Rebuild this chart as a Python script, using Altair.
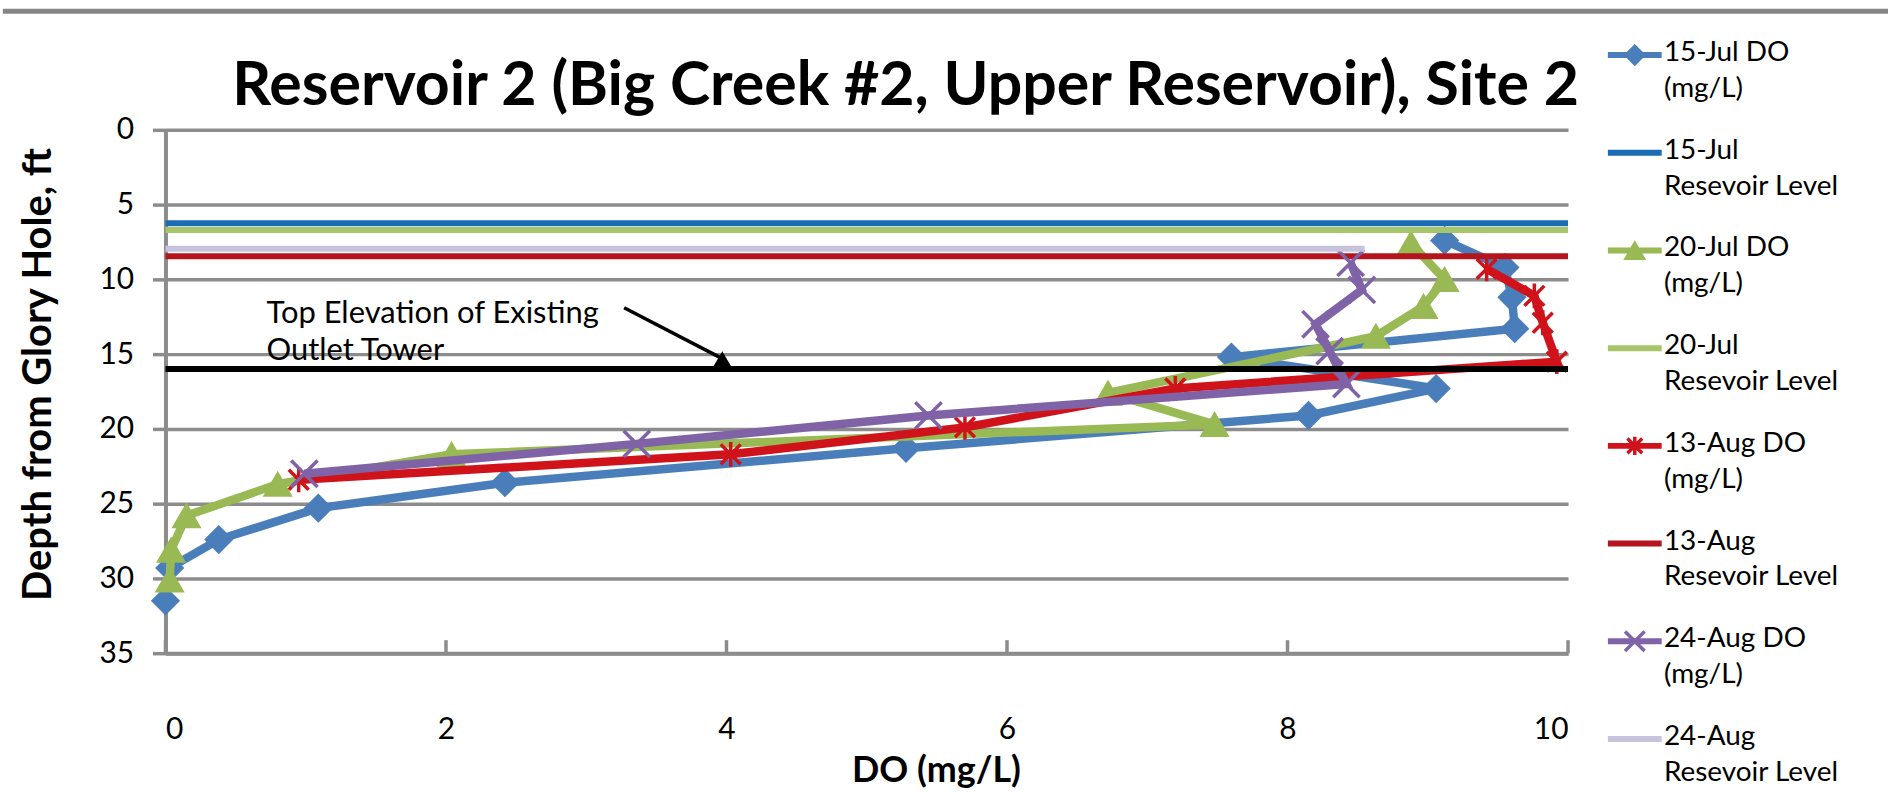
import altair as alt
import pandas as pd

# ---------------- data ----------------
do_names = ["15-Jul DO (mg/L)", "20-Jul DO (mg/L)", "13-Aug DO (mg/L)", "24-Aug DO (mg/L)"]

jul15_do    = [9.12, 9.55, 9.60, 9.62, 7.60, 9.06, 8.15, 5.28, 2.42, 1.09, 0.38, 0.03, 0.00]
jul15_depth = [7.4, 9.2, 11.2, 13.3, 15.2, 17.3, 19.1, 21.3, 23.6, 25.3, 27.4, 29.3, 31.5]

jul20_do    = [8.88, 9.12, 8.97, 8.63, 6.72, 7.48, 2.04, 0.80, 0.15, 0.04, 0.03]
jul20_depth = [7.6, 10.0, 11.8, 13.8, 17.6, 19.7, 21.7, 23.7, 25.8, 28.1, 30.1]

aug13_do    = [9.42, 9.76, 9.82, 9.92, 7.20, 5.70, 4.03, 0.95]
aug13_depth = [9.3, 11.1, 12.9, 15.5, 17.3, 19.9, 21.7, 23.4]

aug24_do    = [8.45, 8.53, 8.20, 8.30, 8.42, 5.44, 3.36, 0.99]
aug24_depth = [8.9, 10.7, 13.0, 14.8, 17.0, 19.1, 21.0, 23.0]

level_names    = ["15-Jul Resevoir Level", "20-Jul Resevoir Level",
                  "13-Aug Resevoir Level", "24-Aug Resevoir Level"]
level_depth    = [6.25, 6.70, 8.45, 7.95]
level_do_start = [0, 0, 0, 0]
level_do_end   = [10, 10, 10, 8.55]

tower_depth = 16.0
tower_do = [0, 10]

annot_lines = ["Top Elevation of Existing", "Outlet Tower"]
annot_do = [0.72, 0.72]
annot_depth = [12.3, 14.8]
arrow_do = [3.27, 3.97]
arrow_depth = [11.9, 15.3]

x_ticks = [0, 2, 4, 6, 8, 10]
y_ticks = [0, 5, 10, 15, 20, 25, 30, 35]

legend_labels = ["15-Jul DO\n(mg/L)", "15-Jul\nResevoir Level",
                 "20-Jul DO\n(mg/L)", "20-Jul\nResevoir Level",
                 "13-Aug DO\n(mg/L)", "13-Aug\nResevoir Level",
                 "24-Aug DO\n(mg/L)", "24-Aug\nResevoir Level"]

# frame line across the top of the picture (in the legend panel's units)
frame_x = [-28.65, 5.0]
frame_row = -0.449

# ---------------- styles ----------------
do_colors    = ["#4A7EBB", "#98B954", "#D0121A", "#7F63A6"]
level_colors = ["#1B6DB3", "#A6C56A", "#B4141E", "#C8C3DC"]
STAR = "M0,-1L0,1M-0.8,-0.8L0.8,0.8M-0.8,0.8L0.8,-0.8"
XMARK = "M-1,-1L1,1M-1,1L1,-1"
marker_shapes = ["diamond", "triangle-up", STAR, XMARK]
marker_filled = [True, True, False, False]
marker_sizes  = [740, 760, 620, 700]
GRID = "#8C8C8C"
FONT = "Lato"
NOVIEW = alt.ViewBackground(stroke="transparent", strokeWidth=0)

do_values = [jul15_do, jul20_do, aug13_do, aug24_do]
do_depths = [jul15_depth, jul20_depth, aug13_depth, aug24_depth]

x_scale = alt.Scale(domain=[0, 10], nice=False, zero=False)
y_scale = alt.Scale(domain=[0, 35], nice=False, reverse=True)

x_axis = alt.Axis(values=x_ticks, title="DO (mg/L)", grid=False, ticks=False, tickSize=0,
                  labelFontSize=30, labelPadding=62, labelColor="black", labelFont=FONT,
                  domainColor=GRID, domainWidth=4,
                  titleFontSize=36, titleFont=FONT, titleFontWeight="bold", titleColor="black",
                  titlePadding=9, titleX=773)
y_axis = alt.Axis(values=y_ticks, title="Depth from Glory Hole, ft", grid=True,
                  gridColor=GRID, gridWidth=3.5, gridOpacity=1,
                  tickSize=13, tickColor=GRID, tickWidth=3.5,
                  labelFontSize=30, labelPadding=19, labelColor="black", labelFont=FONT,
                  domainColor=GRID, domainWidth=4,
                  titleFontSize=40, titleFont=FONT, titleFontWeight="bold", titleColor="black",
                  titlePadding=41, titleY=245)


def X(field="do"):
    return alt.X(f"{field}:Q", scale=x_scale, axis=x_axis)


def Y(field="depth"):
    return alt.Y(f"{field}:Q", scale=y_scale, axis=y_axis)


def marker(i, data, x_enc=None, y_enc=None, scale=1.0):
    kw = dict(shape=marker_shapes[i], size=marker_sizes[i] * scale, opacity=1)
    if marker_filled[i]:
        m = alt.Chart(data).mark_point(filled=True, fill=do_colors[i], stroke=do_colors[i],
                                       strokeWidth=1.5, **kw)
    else:
        m = alt.Chart(data).mark_point(filled=False, stroke=do_colors[i], strokeWidth=3.5, **kw)
    return m.encode(x=x_enc if x_enc is not None else X(),
                    y=y_enc if y_enc is not None else Y())


layers = []
for i in range(4):
    df = pd.DataFrame({"do": do_values[i], "depth": do_depths[i],
                       "idx": list(range(len(do_values[i])))})
    layers.append(alt.Chart(df).mark_line(color=do_colors[i], strokeWidth=8.5)
                  .encode(x=X(), y=Y(), order="idx:Q"))
    layers.append(marker(i, df))
    lv = pd.DataFrame({"do": [level_do_start[i]], "do_end": [level_do_end[i]],
                       "depth": [level_depth[i]]})
    layers.append(alt.Chart(lv).mark_rule(color=level_colors[i], strokeWidth=6)
                  .encode(x=X(), x2="do_end:Q", y=Y()))

tower = pd.DataFrame({"do": [tower_do[0]], "do_end": [tower_do[1]], "depth": [tower_depth]})
layers.append(alt.Chart(tower).mark_rule(color="black", strokeWidth=6)
              .encode(x=X(), x2="do_end:Q", y=Y()))

# inward x ticks
xt = pd.DataFrame({"do": x_ticks, "depth": [35] * len(x_ticks)})
layers.append(alt.Chart(xt).mark_rule(color=GRID, strokeWidth=3.5)
              .encode(x=X(), y=Y(), y2=alt.datum(34.13)))

# annotation
ann = pd.DataFrame({"do": annot_do, "depth": annot_depth, "t": annot_lines})
layers.append(alt.Chart(ann).mark_text(align="left", baseline="middle", fontSize=31,
                                       font=FONT, color="black")
              .encode(x=X(), y=Y(), text="t:N"))
arr = pd.DataFrame({"do": [arrow_do[0]], "do_end": [arrow_do[1]],
                    "depth": [arrow_depth[0]], "depth_end": [arrow_depth[1]]})
layers.append(alt.Chart(arr).mark_rule(color="black", strokeWidth=3.5)
              .encode(x=X(), x2="do_end:Q", y=Y(), y2="depth_end:Q"))
head = pd.DataFrame({"do": [arrow_do[1]], "depth": [arrow_depth[1]]})
layers.append(alt.Chart(head).mark_point(shape="triangle-up", filled=True, color="black",
                                         size=300, opacity=1)
              .encode(x=X(), y=Y()))

main = alt.layer(*layers).properties(
    width=1407, height=525, view=NOVIEW,
    title=alt.TitleParams("Reservoir 2 (Big Creek #2, Upper Reservoir), Site 2",
                          fontSize=61, font=FONT, fontWeight="bold", color="black",
                          anchor="middle", dx=39, offset=-3))

# ---------------- legend panel ----------------
leg_colors = []
for i in range(4):
    leg_colors += [do_colors[i], level_colors[i]]
leg_df = pd.DataFrame({"label": legend_labels, "row": list(range(8)), "color": leg_colors})

lx = alt.Scale(domain=[0, 5], nice=False, zero=False)
ly = alt.Scale(domain=[0.765, 6.122], nice=False, zero=False, reverse=True)

frame = pd.DataFrame({"x0": [frame_x[0]], "x1": [frame_x[1]], "row": [frame_row]})

leg_layers = [
    alt.Chart(frame).mark_rule(color="#858585", strokeWidth=5).encode(
        x=alt.X("x0:Q", scale=lx, axis=None), x2="x1:Q",
        y=alt.Y("row:Q", scale=ly, axis=None)),
    alt.Chart(leg_df).mark_rule(strokeWidth=6).encode(
        x=alt.datum(0, scale=lx, axis=None), x2=alt.datum(0.96),
        y=alt.Y("row:Q", scale=ly, axis=None),
        color=alt.Color("color:N", scale=None)),
    alt.Chart(leg_df).mark_text(align="left", baseline="top", fontSize=28, font=FONT,
                                color="black", lineBreak="\n", lineHeight=36, dy=-16).encode(
        x=alt.datum(1.0, scale=lx, axis=None),
        y=alt.Y("row:Q", scale=ly, axis=None),
        text="label:N"),
]
for i in range(4):
    one = leg_df[leg_df["row"] == 2 * i]
    leg_layers.append(marker(i, one,
                             x_enc=alt.datum(0.48, scale=lx, axis=None),
                             y_enc=alt.Y("row:Q", scale=ly, axis=None), scale=0.55))

legend = alt.layer(*leg_layers).properties(width=281, height=525, view=NOVIEW)

chart = (alt.hconcat(main, legend, spacing=40, bounds="flush")
         .properties(padding={"left": 0, "top": 7, "right": 0, "bottom": 0},
                     background="white")
         .configure_view(strokeWidth=0, stroke="transparent")
         .configure(font=FONT))

chart.save("out.html", embed_options={"renderer": "svg", "actions": False})
